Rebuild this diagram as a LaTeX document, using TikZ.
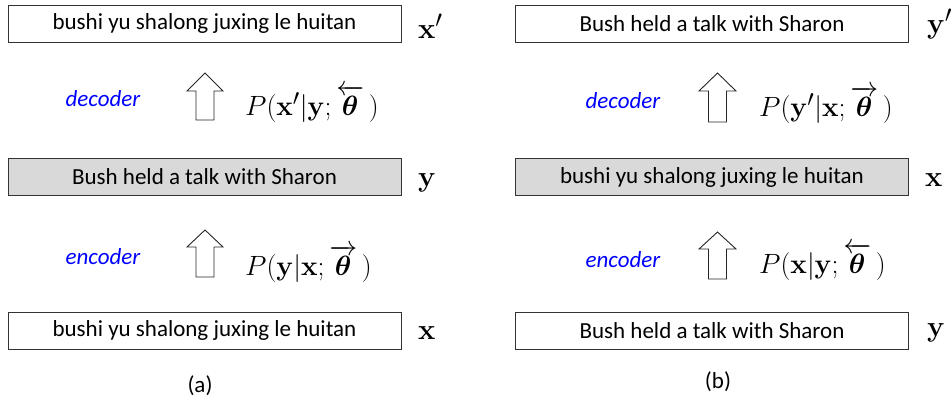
\documentclass[tikz,border=0pt]{standalone}
\usepackage{amsmath}
\usepackage{bm}
\usepackage{graphicx}
\usepackage[no-math]{fontspec}
\setmainfont{Carlito}
\newcommand{\bigmath}[1]{\scalebox{1.17}{\fontsize{24.88}{28}\selectfont$#1$}}
\newcommand{\formmath}[1]{\scalebox{1.12}{\fontsize{24.88}{28}\selectfont$#1$}}
\begin{document}
\begin{tikzpicture}[x=1pt,y=-1pt,
  sentbox/.style={draw=black!80,line width=0.9pt,minimum width=393,minimum height=37,inner sep=0pt,font=\fontsize{23}{26}\selectfont},
  shaded/.style={fill=black!15},
  varlab/.style={anchor=west,inner sep=0pt},
  formula/.style={anchor=west,inner sep=0pt},
  role/.style={text=blue,inner sep=0pt,font=\fontsize{23}{26}\selectfont\itshape},
  caption/.style={inner sep=0pt,font=\fontsize{23}{26}\selectfont},
  blockarrow/.style={draw=black!85,line width=0.9pt,fill=white,line join=miter}]
\useasboundingbox (0,0) rectangle (952,403);
% ---------- panel (a)
\node[sentbox] (a3) at (204.5,23.5) {bushi yu shalong juxing le huitan};
\node[sentbox,shaded] (a2) at (204.5,177) {Bush held a talk with Sharon};
\node[sentbox] (a1) at (204.5,330.5) {bushi yu shalong juxing le huitan};
\node[varlab] (a3l) at (418,26) {\bigmath{\mathbf{x}'}};
\node[varlab] (a2l) at (418,183) {\bigmath{\mathbf{y}}};
\node[varlab] (a1l) at (418,333) {\bigmath{\mathbf{x}}};
\node[role] (adec) at (103,99) {decoder};
\node[role] (aenc) at (103,257) {encoder};
\node[formula] (af2) at (245,104) {\formmath{P(\mathbf{x}'|\mathbf{y};\overleftarrow{\bm{\theta}}\,)}};
\node[formula] (af1) at (245,264) {\formmath{P(\mathbf{y}|\mathbf{x};\overrightarrow{\bm{\theta}}\,)}};
\draw[blockarrow] (196,120) -- (196,91) -- (187,91) -- (205,73) -- (223,91) -- (214,91) -- (214,120) -- cycle;
\draw[blockarrow] (196,277) -- (196,247) -- (187,247) -- (205,230) -- (223,247) -- (214,247) -- (214,277) -- cycle;
\node[caption] (acap) at (200,386) {(a)};
% ---------- panel (b)
\node[sentbox] (b3) at (712,23.5) {Bush held a talk with Sharon};
\node[sentbox,shaded] (b2) at (712,177) {bushi yu shalong juxing le huitan};
\node[sentbox] (b1) at (712,330.5) {Bush held a talk with Sharon};
\node[varlab] (b3l) at (927,24) {\bigmath{\mathbf{y}'}};
\node[varlab] (b2l) at (925,180) {\bigmath{\mathbf{x}}};
\node[varlab] (b1l) at (927,333) {\bigmath{\mathbf{y}}};
\node[role] (bdec) at (623,101) {decoder};
\node[role] (benc) at (623,260) {encoder};
\node[formula] (bf2) at (759,105) {\formmath{P(\mathbf{y}'|\mathbf{x};\overrightarrow{\bm{\theta}}\,)}};
\node[formula] (bf1) at (759,262) {\formmath{P(\mathbf{x}|\mathbf{y};\overleftarrow{\bm{\theta}}\,)}};
\draw[blockarrow] (708.5,122) -- (708.5,91) -- (699,91) -- (717.5,73) -- (736,91) -- (726.5,91) -- (726.5,122) -- cycle;
\draw[blockarrow] (708.5,279) -- (708.5,249) -- (699,249) -- (717.5,232) -- (736,249) -- (726.5,249) -- (726.5,279) -- cycle;
\node[caption] (bcap) at (718,382) {(b)};
\end{tikzpicture}
\end{document}
